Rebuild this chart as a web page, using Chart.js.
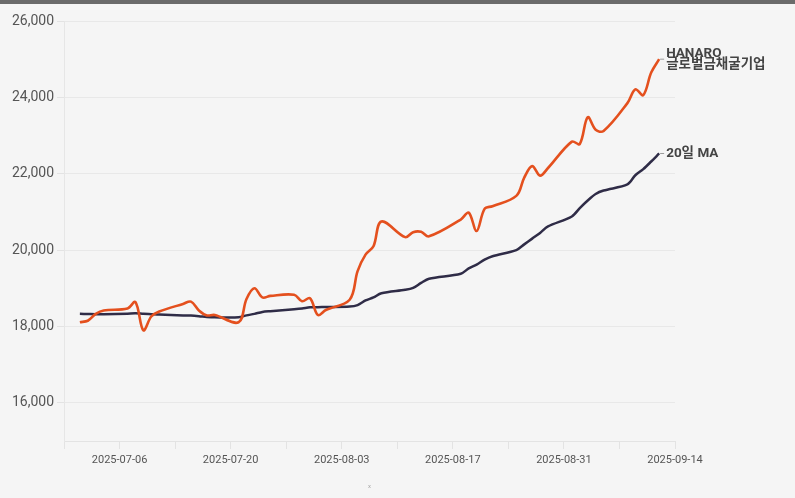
<!DOCTYPE html>
<html>
<head>
<meta charset="utf-8">
<script src="https://cdn.jsdelivr.net/npm/chart.js@4"></script>
<style>
  html, body { margin: 0; padding: 0; background: #f5f5f5; }
  #wrap { position: relative; width: 795px; height: 498px; background: #f5f5f5; }
  #topbar { position: absolute; left: 0; top: 0; width: 795px; height: 4px; background: #6b6b6b; z-index: 2; }
  canvas { position: absolute; left: 0; top: 0; }
</style>
</head>
<body>
<div id="wrap">
  <div id="topbar"></div>
  <canvas id="c" width="795" height="498"></canvas>
</div>
<script>
const dates = [
  "2025-07-01","2025-07-02","2025-07-03","2025-07-04",
  "2025-07-07","2025-07-08","2025-07-09","2025-07-10","2025-07-11",
  "2025-07-14","2025-07-15","2025-07-16","2025-07-17","2025-07-18",
  "2025-07-21","2025-07-22","2025-07-23","2025-07-24","2025-07-25",
  "2025-07-28","2025-07-29","2025-07-30","2025-07-31","2025-08-01",
  "2025-08-04","2025-08-05","2025-08-06","2025-08-07","2025-08-08",
  "2025-08-11","2025-08-12","2025-08-13","2025-08-14",
  "2025-08-18","2025-08-19","2025-08-20","2025-08-21","2025-08-22",
  "2025-08-25","2025-08-26","2025-08-27","2025-08-28","2025-08-29",
  "2025-09-01","2025-09-02","2025-09-03","2025-09-04","2025-09-05",
  "2025-09-08","2025-09-09","2025-09-10","2025-09-11","2025-09-12"
];
const priceValues = [
  18110,18150,18330,18420,
  18470,18640,17900,18260,18390,
  18590,18650,18420,18290,18300,
  18110,18720,19000,18760,18800,
  18830,18660,18740,18300,18430,
  18700,19450,19880,20100,20750,
  20340,20470,20480,20360,
  20800,20980,20500,21080,21150,
  21420,21900,22200,21950,22150,
  22840,22780,23480,23150,23120,
  23850,24210,24060,24650,25000
];
const maValues = [
  18330,18325,18320,18320,
  18335,18345,18330,18320,18310,
  18290,18285,18270,18250,18240,
  18240,18290,18330,18380,18400,
  18450,18470,18500,18505,18510,
  18520,18560,18680,18760,18870,
  18960,19010,19140,19250,
  19380,19520,19620,19750,19840,
  20000,20150,20300,20450,20620,
  20880,21100,21300,21470,21560,
  21720,21960,22120,22320,22530
];
const seriesNames = [["HANARO","글로벌금채굴기업"], ["20일 MA"]];
const yTicks = [16000,18000,20000,22000,24000,26000];
const axisStart = "2025-06-29";
const axisEnd = "2025-09-14";

const DAY = 864e5;
const t0 = Date.parse(axisStart + "T00:00:00Z");
const dayOffset = s => Math.round((Date.parse(s + "T00:00:00Z") - t0) / DAY);
const fmtDay = v => new Date(t0 + v * DAY).toISOString().slice(0, 10);

const priceData = dates.map((d, i) => ({ x: dayOffset(d), y: priceValues[i] }));
const maData = dates.map((d, i) => ({ x: dayOffset(d), y: maValues[i] }));

const endLabels = {
  id: 'endLabels',
  afterDatasetsDraw(chart) {
    const ctx = chart.ctx;
    chart.data.datasets.forEach((ds, di) => {
      const meta = chart.getDatasetMeta(di);
      const pt = meta.data[meta.data.length - 1];
      if (!pt) return;
      const lines = seriesNames[di];
      ctx.save();
      ctx.strokeStyle = '#9a9a9a';
      ctx.lineWidth = 1;
      ctx.beginPath();
      ctx.moveTo(pt.x + 1, pt.y);
      ctx.lineTo(pt.x + 5, pt.y);
      ctx.stroke();
      ctx.fillStyle = '#444';
      ctx.font = 'bold 13.5px Roboto, "Noto Sans CJK KR", sans-serif';
      ctx.textBaseline = 'middle';
      ctx.textAlign = 'left';
      const lh = 11.8;
      const startY = pt.y - (lines.length - 1) * lh / 2;
      lines.forEach((t, k) => ctx.fillText(t, pt.x + 7, startY + k * lh));
      ctx.restore();
    });
  }
};

new Chart(document.getElementById('c'), {
  type: 'line',
  data: {
    datasets: [
      { data: priceData, borderColor: '#e4501e', borderWidth: 2.6, pointRadius: 0, tension: 0.35, fill: false },
      { data: maData, borderColor: '#2f2c47', borderWidth: 2.5, pointRadius: 0, tension: 0.3, fill: false }
    ]
  },
  options: {
    responsive: false,
    animation: false,
    devicePixelRatio: 1,
    layout: { padding: { top: 21, right: 120, left: 0, bottom: 0 } },
    plugins: { legend: { display: false }, tooltip: { enabled: false } },
    scales: {
      x: {
        type: 'linear',
        min: 0,
        max: dayOffset(axisEnd),
        afterBuildTicks: s => {
          const t = [];
          for (let v = 0; v <= dayOffset(axisEnd); v += 7) t.push({ value: v });
          s.ticks = t;
        },
        afterFit: s => { s.height = 57; },
        grid: { drawOnChartArea: false, color: '#e3e3e3', tickLength: 8 },
        border: { color: '#e3e3e3' },
        ticks: {
          autoSkip: false, maxRotation: 0, padding: 5,
          color: '#555', font: { family: 'Roboto', size: 11 },
          callback: v => ((v / 7) % 2 === 1 ? fmtDay(v) : '')
        },
        title: { display: true, text: 'x', color: '#aaa', font: { family: 'Roboto', size: 6 }, padding: { top: 0, bottom: 8 } }
      },
      y: {
        min: 15000,
        max: 26000,
        afterBuildTicks: s => { s.ticks = yTicks.map(v => ({ value: v })); },
        afterFit: s => { s.width = 64; },
        grid: { color: 'rgba(0,0,0,0.05)', tickLength: 7, tickColor: '#e3e3e3' },
        border: { color: '#e6e6e6' },
        ticks: {
          padding: 3, color: '#555', font: { family: 'Roboto', size: 14 },
          callback: v => v.toLocaleString('en-US')
        }
      }
    }
  },
  plugins: [endLabels]
});
</script>
</body>
</html>
